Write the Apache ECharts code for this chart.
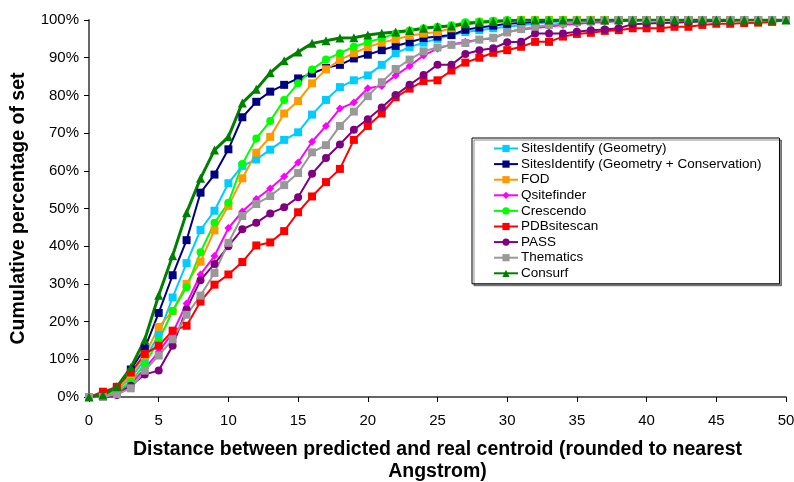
<!DOCTYPE html>
<html>
<head>
<meta charset="utf-8">
<script src="https://cdn.jsdelivr.net/npm/echarts@6/dist/echarts.min.js"></script>
<style>
html,body{margin:0;padding:0;background:#fff;}
#chart{width:794px;height:482px;}
</style>
</head>
<body>
<div id="chart"></div>
<script>
// Distance (Angstrom) – x values
const distances = [0,1,2,3,4,5,6,7,8,9,10,11,12,13,14,15,16,17,18,19,20,21,22,23,24,25,26,27,28,29,30,31,32,33,34,35,36,37,38,39,40,41,42,43,44,45,46,47,48,49,50];

const yTickLabels = ['0%','10%','20%','30%','40%','50%','60%','70%','80%','90%','100%'];

// Cumulative percentage of set (%)
const sitesGeometry = [0,0.5,2,5,10,16.5,26.4,35.5,44.3,49.4, 56.7,61.3,63,65.6,68.2,70.2,74.9,78.8,82.2,84, 85.3,88.1,91.2,92.8,94,95,96,96.8,97.3,97.8, 98.2,98.6,99,99.4,99.7,100,100,100,100,100, 100,100,100,100,100,100,100,100,100,100, 100];
const sitesGeomCons = [0,0.5,2.5,7.3,12.9,22.3,32.3,41.6,54.2,59, 65.7,74.2,78.3,81,82.8,84.5,85.8,87.3,88.1,89.8, 90.8,92,93.1,94.1,95.2,95.6,96,97.4,98,98.5, 99,99.2,99.5,99.7,100,100,100,100,100,100, 100,100,100,100,100,100,100,100,100,100, 100];
const fod = [0,0.5,2,5.8,11,18.6,22.8,30,35.9,44.2, 50.7,58,64.8,69,75.2,78.5,83.2,86.9,89.4,91.2, 92.8,94,94.9,95.8,96.4,96.8,97.8,99,99.4,99.6, 99.8,100,100,100,100,100,100,100,100,100, 100,100,100,100,100,100,100,100,100,100, 100];
const qsitefinder = [0,0,1,3.5,7.5,12,17,24.8,32.5,37.4, 44.8,49.2,52.5,55.3,58.5,62.2,67.7,71.9,76.5,78.1, 81.9,82.5,85.3,87.8,90.6,92.4,93.5,94.2,94.8,95.1, 96.8,97.5,97.9,98.3,98.7,99,99.3,99.5,99.7,99.8, 100,100,100,100,100,100,100,100,100,100, 100];
const crescendo = [0,0.5,1.5,4,8.7,15,22.8,29.1,38.4,46.2, 51.5,61.8,68.6,73.2,78.8,83.2,86.9,89.5,91.2,92.9, 94.1,95.2,96.4,97.2,97.8,98.2,98.6,99.4,99.6,99.8, 100,100,100,100,100,100,100,100,100,100, 100,100,100,100,100,100,100,100,100,100, 100];
const pdbSitescan = [0,1.4,2.7,6.5,11.4,13.6,17.6,18.9,25.3,29.8, 32.5,35.8,40.2,41,44,49,53.2,57,60.5,68.2, 71.9,75.2,79.5,81.8,83.8,84,86.6,88.7,90,91.3, 92,92.9,94.2,94.2,95.6,96.3,96.6,97.1,97.3,97.8, 97.8,97.8,98.2,98.2,98.7,99,99,99.2,99.3,99.5, 100];
const pass = [0,0,0.5,3,6,7,13.6,23.3,31,35.3, 40,44.5,46.2,48.7,50.3,53,59.2,63.4,67,70.9, 73.7,76.8,80.1,82.8,85.4,88.1,88.1,91,92,92.5, 94.1,94.2,96.4,96.4,96.4,96.9,97.3,97.5,97.8,98.9, 99.1,99.2,99.3,99.5,99.6,99.7,99.8,100,100,100, 100];
const thematics = [0,0,0.8,2.3,7,11,15.3,21.8,26.9,32.9, 40.9,48,51.2,53.3,56.2,59.4,64.9,66.8,71.9,75.7, 79.8,83.5,87,89.5,91.7,92.7,93.4,93.9,94.8,95.3, 96.7,97.6,98.2,98.7,99.1,99.4,99.6,99.8,100,100, 100,100,100,100,100,100,100,100,100,100, 100];
const consurf = [0,0.5,2.7,7.8,15.2,27,37.5,48.9,58,65.5, 69,78,81.6,86,89.2,91.5,93.8,94.5,95.2,95.3, 96,96.5,96.8,97.2,97.8,98.2,98.4,99,99.4,99.6, 99.8,100,100,100,100,100,100,100,100,100, 100,100,100,100,100,100,100,100,100,100, 100];

const seriesNames = ['SitesIdentify (Geometry)','SitesIdentify (Geometry + Conservation)','FOD','Qsitefinder','Crescendo','PDBsitescan','PASS','Thematics','Consurf'];
const seriesValues = [sitesGeometry, sitesGeomCons, fod, qsitefinder, crescendo, pdbSitescan, pass, thematics, consurf];
const seriesColors = ['#00CCFF','#000080','#FF9900','#FF00FF','#00FF00','#FF0000','#800080','#999999','#008000'];
const seriesSymbols = ['rect','rect','rect','diamond','circle','rect','circle','rect','triangle'];

const FONT = '"Liberation Sans", Arial, Helvetica, sans-serif';

const series = seriesNames.map((name, i) => ({
  name: name,
  type: 'line',
  data: distances.map((d, j) => [d, seriesValues[i][j]]),
  symbol: seriesSymbols[i],
  symbolSize: seriesSymbols[i] === 'diamond' ? 8 : (seriesSymbols[i] === 'triangle' ? 9 : 8),
  showSymbol: true,
  showAllSymbol: true,
  lineStyle: { color: seriesColors[i], width: i === 8 ? 3 : 2 },
  itemStyle: { color: seriesColors[i], borderWidth: 0 },
  emphasis: { disabled: true },
  animation: false
}));

const chart = echarts.init(document.getElementById('chart'), null, { renderer: 'canvas' });
chart.setOption({
  backgroundColor: '#ffffff',
  animation: false,
  textStyle: { fontFamily: FONT },
  grid: { left: 89, right: 8, top: 20, bottom: 85, containLabel: false, outerBoundsMode: 'none' },
  legend: {
    orient: 'vertical',
    left: 472,
    top: 138,
    padding: [3, 18, 3, 21],
    itemWidth: 24,
    itemHeight: 9,
    itemGap: 0.6,
    data: seriesNames,
    backgroundColor: '#ffffff',
    borderColor: '#000000',
    borderWidth: 1,
    shadowColor: 'rgba(0,0,0,0.45)',
    shadowOffsetX: 2,
    shadowOffsetY: 2,
    shadowBlur: 0,
    selectedMode: false,
    textStyle: { fontFamily: FONT, fontSize: 13.5, color: '#000', lineHeight: 15, padding: [0,0,0,-2] }
  },
  xAxis: {
    type: 'value',
    min: 0, max: 50, interval: 5,
    name: 'Distance between predicted and real centroid (rounded to nearest\nAngstrom)',
    nameLocation: 'middle',
    nameGap: 42,
    nameTextStyle: { fontFamily: FONT, fontSize: 19.5, fontWeight: 'bold', color: '#000', lineHeight: 22, align: 'center' },
    axisLine: { show: true, lineStyle: { color: '#333', width: 1.5 } },
    axisTick: { show: true, length: 5, lineStyle: { color: '#000', width: 1 } },
    axisLabel: { fontFamily: FONT, fontSize: 15, color: '#000', margin: 16 },
    splitLine: { show: false }
  },
  yAxis: {
    type: 'value',
    min: 0, max: 100, interval: 10,
    name: 'Cumulative percentage of set',
    nameLocation: 'middle',
    nameGap: 56,
    nameRotate: 90,
    nameTextStyle: { fontFamily: FONT, fontSize: 19.5, fontWeight: 'bold', color: '#000', lineHeight: 23 },
    axisLine: { show: true, lineStyle: { color: '#666', width: 2 } },
    axisTick: { show: true, length: 5, lineStyle: { color: '#000', width: 1 } },
    axisLabel: { fontFamily: FONT, fontSize: 15, color: '#000', margin: 10,
      formatter: function (v) { return yTickLabels[Math.round(v / 10)]; } },
    splitLine: { show: false }
  },
  series: series
});
</script>
</body>
</html>
